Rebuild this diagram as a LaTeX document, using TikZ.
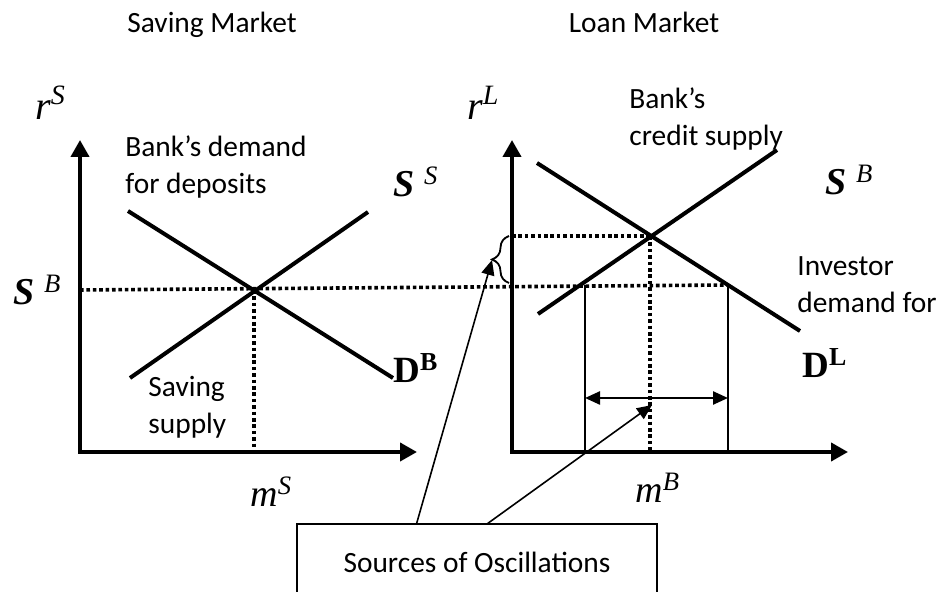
\documentclass[tikz,border=0pt]{standalone}
\usepackage{fontspec}
\setmainfont{Carlito}
\newfontfamily\tnr{Liberation Serif}
\usepackage{tikz}
\usetikzlibrary{arrows.meta, calc, decorations.pathreplacing}

\begin{document}
\begin{tikzpicture}[x=0.5pt, y=-0.5pt,
    axis/.style={line width=2pt, line join=miter,
      {Triangle[length=8.5pt,width=9pt]}-{Triangle[length=8.5pt,width=9pt]}},
    curve/.style={line width=2pt},
    guide/.style={line width=1.8pt, dash pattern=on 1.8pt off 1.4pt},
    thinline/.style={line width=0.65pt},
    pointer/.style={line width=0.8pt, -{Triangle[length=7.5pt,width=6.5pt]}},
    span/.style={line width=1.2pt,
      {Triangle[length=7.5pt,width=6.5pt]}-{Triangle[length=7.5pt,width=6.5pt]}},
    title/.style={font=\fontsize{14.7}{18.5}\selectfont, inner sep=0pt, anchor=base},
    words/.style={font=\fontsize{14.7}{18.5}\selectfont, align=left, inner sep=0pt, anchor=north west},
    sym/.style={font=\tnr\itshape\fontsize{20}{20}\selectfont, inner sep=0pt, anchor=base west},
    qty/.style={font=\tnr\itshape\fontsize{19}{19}\selectfont, inner sep=0pt, anchor=base west},
    crv/.style={font=\tnr\bfseries\fontsize{18.5}{18.5}\selectfont, inner sep=0pt, anchor=base west},
    box/.style={draw, thinline, minimum width=180pt, minimum height=38pt, inner sep=0pt,
      font=\fontsize{14.7}{18.5}\selectfont}]
  \useasboundingbox (0,0) rectangle (937,592);
  \clip (0,0) rectangle (937,592);

  % titles
  \node[title] (savmkt) at (212,33) {Saving Market};
  \node[title] (loanmkt) at (644,33) {Loan Market};

  % saving market
  \coordinate (oS) at (80,452);
  \coordinate (yS) at (80,140);
  \coordinate (xS) at (417,452);
  \coordinate (dB1) at (128,211);
  \coordinate (dB2) at (393,378);
  \coordinate (sS1) at (130,378);
  \coordinate (sS2) at (368,212);
  \coordinate (eS) at (254,290);
  \coordinate (eSx) at (254,452);
  \coordinate (sBy) at (80,290);

  % loan market
  \coordinate (oL) at (512,452);
  \coordinate (yL) at (512,140);
  \coordinate (xL) at (848,452);
  \coordinate (dL1) at (537,163);
  \coordinate (dL2) at (800,331);
  \coordinate (sB1) at (538,314);
  \coordinate (sB2) at (777,150);
  \coordinate (eL) at (650,236);
  \coordinate (eLx) at (650,452);
  \coordinate (eLy) at (512,236);
  \coordinate (lo) at (585,285);
  \coordinate (lox) at (585,452);
  \coordinate (hi) at (728,285);
  \coordinate (hix) at (728,452);
  \coordinate (spanL) at (585,398);
  \coordinate (spanR) at (728,398);
  \coordinate (spanMid) at (652,405);
  \coordinate (brLo) at (509,283);
  \coordinate (brHi) at (509,236);
  \coordinate (brTip) at (492,260);

  % dotted guides
  \draw[guide] (sBy) -- (hi);
  \draw[guide] (eS) -- (eSx);
  \draw[guide] (eLy) -- (eL);
  \draw[guide] (eL) -- (eLx);

  % axes
  \draw[axis] (yS) -- (oS) -- (xS);
  \draw[axis] (yL) -- (oL) -- (xL);

  % curves
  \draw[curve] (dB1) -- (dB2);
  \draw[curve] (sS1) -- (sS2);
  \draw[curve] (dL1) -- (dL2);
  \draw[curve] (sB1) -- (sB2);

  % oscillation band
  \draw[thinline] (lo) -- (lox);
  \draw[thinline] (hi) -- (hix);
  \draw[span] (spanL) -- (spanR);
  \draw[line width=0.9pt, decorate, decoration={brace, amplitude=8.5pt}] (brLo) -- (brHi);

  % labels
  \node[sym] (rs) at (35,120) {r\textsuperscript{S}};
  \node[sym] (rl) at (467,120) {r\textsuperscript{L}};
  \node[qty] (ms) at (250,507) {m\textsuperscript{S}};
  \node[qty] (mb) at (635,503) {m\textsuperscript{B}};
  \node[qty] (sbl) at (13,305) {\textbf{S}\hspace{0.25em}\textsuperscript{B}};
  \node[qty] (ss) at (393,197) {\textbf{S}\hspace{0.25em}\textsuperscript{S}};
  \node[qty] (sbr) at (825,195) {\textbf{S}\hspace{0.25em}\textsuperscript{B}};
  \node[crv] (db) at (393,383) {D\textsuperscript{B}};
  \node[crv] (dl) at (802,378) {D\textsuperscript{L}};

  \node[words] (bankdem) at (125,135) {Bank’s demand\\for deposits};
  \node[words] (bankcred) at (629,87) {Bank’s\\credit supply};
  \node[words] (invdem) at (797,256) {Investor\\demand for};
  \node[words] (savsup) at (148,376) {Saving\\supply};

  % sources box and pointers
  \node[box] (src) at (477,562) {Sources of Oscillations};
  \coordinate (srcA) at ($(src.north west)!0.333!(src.north east)$);
  \coordinate (srcB) at ($(src.north west)!0.53!(src.north east)$);
  \draw[pointer] (srcA) -- (brTip);
  \draw[pointer] (srcB) -- (spanMid);
\end{tikzpicture}
\end{document}
